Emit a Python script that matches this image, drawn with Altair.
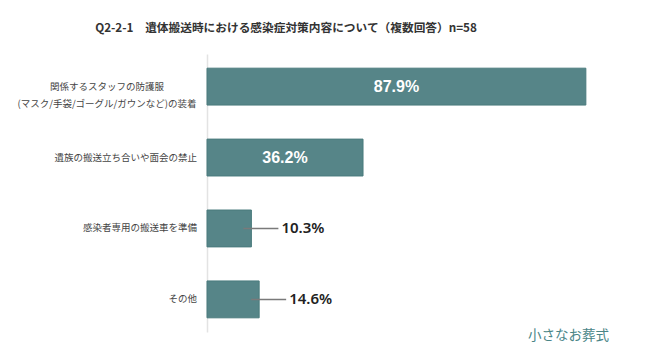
import altair as alt
import pandas as pd

categories = [
    "関係するスタッフの防護服\n(マスク/手袋/ゴーグル/ガウンなど)の装着",
    "遺族の搬送立ち合いや面会の禁止",
    "感染者専用の搬送車を準備",
    "その他",
]
values = [87.9, 36.2, 10.3, 12.1]
labels = ["87.9%", "36.2%", "10.3%", "14.6%"]
title_text = "Q2-2-1　遺体搬送時における感染症対策内容について（複数回答）n=58"
brand = "小さなお葬式"

df = pd.DataFrame({
    "category": categories,
    "value": values,
    "label": labels,
    "multi": ["\n" in c for c in categories],
})

JP = "Noto Sans CJK JP"
BAR = "#568588"

y_enc = alt.Y(
    "category:N", sort=None, title=None,
    scale=alt.Scale(paddingInner=0.48, paddingOuter=0.2),
    axis=alt.Axis(labels=False, ticks=False, domainColor="#e3e3e3", domainWidth=1.5, grid=False),
)
x_scale = alt.Scale(domain=[0, 100])

base = alt.Chart(df)

bars = base.mark_bar(color=BAR, stroke="#4a7b7d", strokeWidth=1).encode(
    x=alt.X("value:Q", scale=x_scale, axis=None),
    y=y_enc,
)

inside = base.transform_filter("datum.value >= 20").transform_calculate(
    mid="datum.value / 2"
).mark_text(color="white", font="Liberation Sans", fontWeight="bold", fontSize=16).encode(
    x=alt.X("mid:Q", scale=x_scale), y=alt.Y("category:N", sort=None), text="label:N"
)

leaders = base.transform_filter("datum.value < 20").mark_rule(
    color="#7a7a7a", strokeWidth=1.5, xOffset=-8, x2Offset=27
).encode(
    x=alt.X("value:Q", scale=x_scale), x2="value:Q", y=alt.Y("category:N", sort=None)
)

outside = base.transform_filter("datum.value < 20").mark_text(
    color="#222222", font="Noto Sans", fontWeight=600, fontSize=15, align="left", dx=30
).encode(
    x=alt.X("value:Q", scale=x_scale), y=alt.Y("category:N", sort=None), text="label:N"
)

cat_single = base.transform_filter("!datum.multi").mark_text(
    font=JP, fontSize=9.5, color="#444444", align="right"
).encode(
    x=alt.value(-10), y=alt.Y("category:N", sort=None), text="category:N"
)

cat_multi = base.transform_filter("datum.multi").mark_text(
    font=JP, fontSize=9.5, color="#444444", align="center", lineBreak="\n", lineHeight=17
).encode(
    x=alt.value(-100), y=alt.Y("category:N", sort=None), text="category:N"
)

title = alt.Chart(pd.DataFrame({"t": [title_text]})).mark_text(
    font=JP, fontSize=11.7, fontWeight="bold", color="#333333"
).encode(x=alt.value(79), y=alt.value(-26), text="t:N")

wm = alt.Chart(pd.DataFrame({"t": [brand]})).mark_text(
    font=JP, fontSize=13.5, color="#4a8587", align="left"
).encode(x=alt.value(321), y=alt.value(282), text="t:N")

chart = alt.layer(bars, inside, leaders, outside, cat_single, cat_multi, title, wm).properties(
    width=431, height=278,
    background="white",
    autosize=alt.AutoSizeParams(type="none"),
    padding={"left": 199, "top": 46, "right": 4, "bottom": 14},
).configure_view(strokeWidth=0, stroke="transparent")

chart.save("out.html", embed_options={"renderer": "svg", "actions": False})
